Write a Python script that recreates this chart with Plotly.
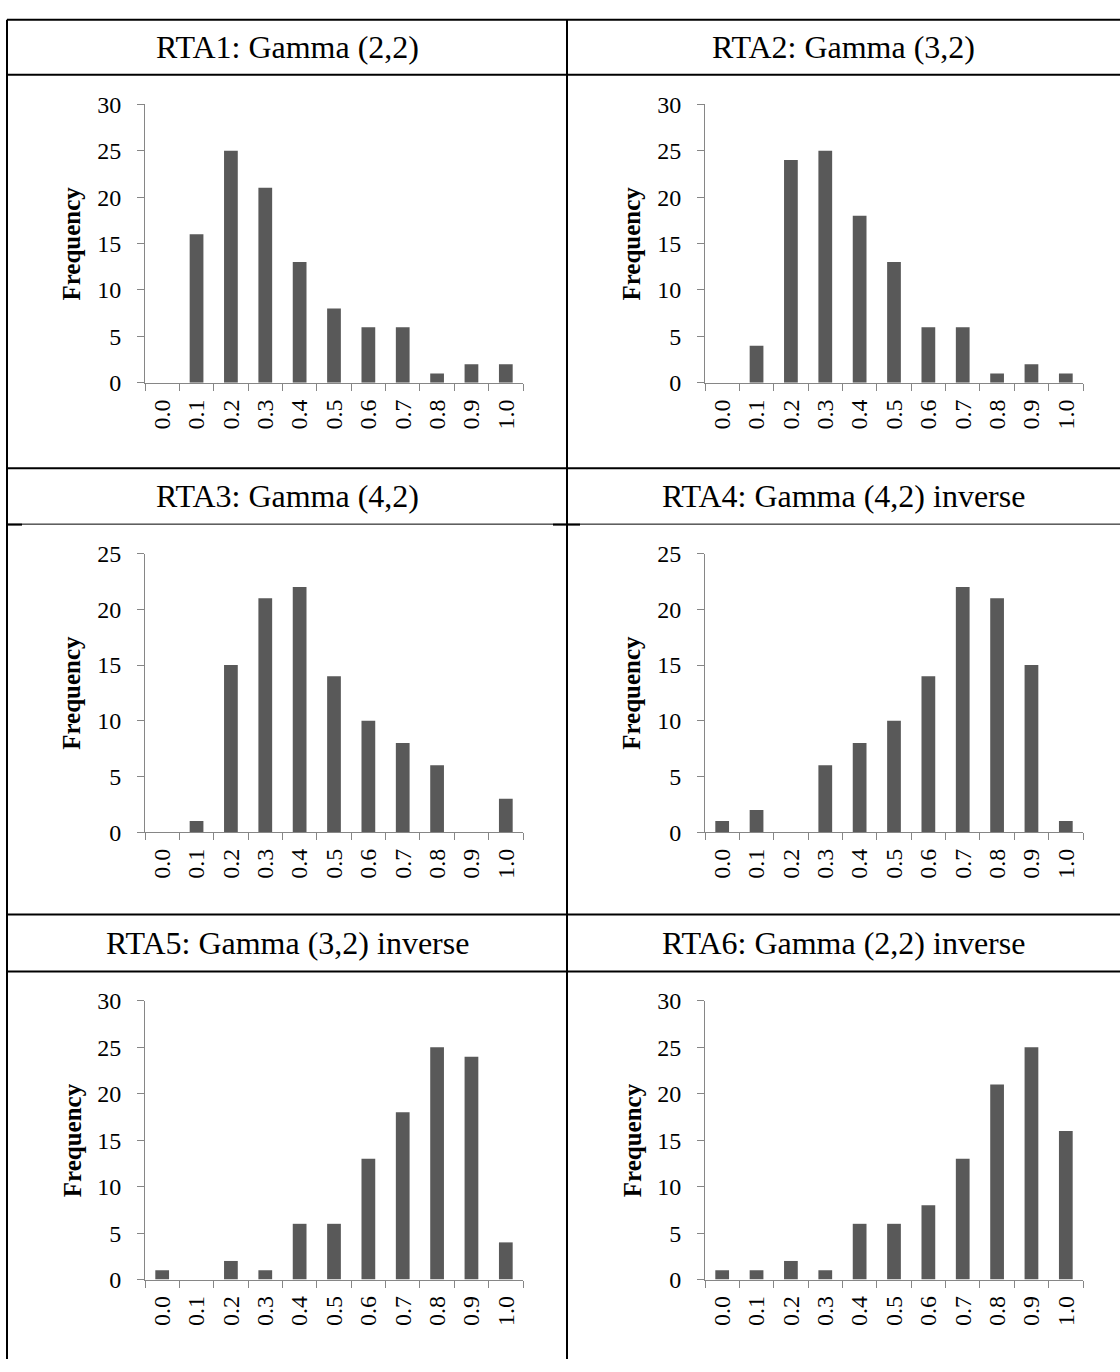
import plotly.graph_objects as go

W, H = 1120, 1372

categories = ["0.0", "0.1", "0.2", "0.3", "0.4", "0.5", "0.6", "0.7", "0.8", "0.9", "1.0"]

rta1 = [0, 16, 25, 21, 13, 8, 6, 6, 1, 2, 2]
rta2 = [0, 4, 24, 25, 18, 13, 6, 6, 1, 2, 1]
rta3 = [0, 1, 15, 21, 22, 14, 10, 8, 6, 0, 3]
rta4 = [1, 2, 0, 6, 8, 10, 14, 22, 21, 15, 1]
rta5 = [1, 0, 2, 1, 6, 6, 13, 18, 25, 24, 4]
rta6 = [1, 1, 2, 1, 6, 6, 8, 13, 21, 25, 16]

titles = ["RTA1: Gamma (2,2)", "RTA2: Gamma (3,2)",
          "RTA3: Gamma (4,2)", "RTA4: Gamma (4,2) inverse",
          "RTA5: Gamma (3,2) inverse", "RTA6: Gamma (2,2) inverse"]
series = [rta1, rta2, rta3, rta4, rta5, rta6]
ymax = [30, 30, 25, 25, 30, 30]

def X(px):
    return px / W

def Y(py):
    return 1 - py / H

# table geometry (pixels)
left_x, mid_x, right_x = 7, 567, 1120
row_lines = [(7, 63, 464), (464, 521, 919), (919, 977, 1372)]  # title top, title bottom/chart top, chart bottom

# plot area offsets relative to cell
plot_left_off = 138   # from cell left
plot_w = 378
plot_top_off = 30     # from chart cell top
plot_h = 284

FONT = "Liberation Serif"
axis_grey = "#868686"
bar_color = "#595959"

fig = go.Figure()
layout = dict(
    width=W, height=H,
    margin=dict(l=0, r=0, t=0, b=0),
    paper_bgcolor="white", plot_bgcolor="white",
    showlegend=False, bargap=0.6,
    font=dict(family=FONT, color="black"),
)

annotations = []
shapes = []

for i, (title, vals, ym) in enumerate(zip(titles, series, ymax)):
    r, c = divmod(i, 2)
    cell_left = left_x if c == 0 else mid_x
    cell_right = mid_x if c == 0 else right_x
    t_top, t_bot, c_bot = row_lines[r]
    px0 = cell_left + plot_left_off
    px1 = px0 + plot_w
    py0 = t_bot + plot_top_off
    py1 = py0 + plot_h
    idx = "" if i == 0 else str(i + 1)
    xa = "xaxis" + idx
    ya = "yaxis" + idx
    fig.add_trace(go.Bar(x=categories, y=vals, marker=dict(color=bar_color, line=dict(width=0)),
                         xaxis="x" + idx, yaxis="y" + idx, hoverinfo="x+y"))
    layout[xa] = dict(
        domain=[X(px0), X(px1)], anchor="y" + idx, type="category",
        range=[-0.5, 10.5], tickson="boundaries", ticks="outside", ticklen=7,
        tickcolor=axis_grey, tickwidth=1, showline=True, linecolor=axis_grey, linewidth=1,
        tickangle=-90, tickfont=dict(family=FONT, size=24, color="black"),
        ticklabelstandoff=6,
        showgrid=False, zeroline=False, fixedrange=True,
    )
    layout[ya] = dict(
        domain=[Y(py1), Y(py0)], anchor="x" + idx, range=[0, ym], dtick=5,
        ticks="outside", ticklen=7, tickcolor=axis_grey, tickwidth=1,
        showline=True, linecolor=axis_grey, linewidth=1,
        tickfont=dict(family=FONT, size=24, color="black"), ticklabelstandoff=11,
        showgrid=False, zeroline=False, fixedrange=True,
    )
    # y axis title
    annotations.append(dict(
        text="<b>Frequency</b>", textangle=-90, xref="paper", yref="paper",
        x=X(px0 - 73), y=Y((py0 + py1) / 2), xanchor="center", yanchor="middle",
        showarrow=False, font=dict(family=FONT, size=25, color="black"),
    ))
    # cell title
    annotations.append(dict(
        text=title, xref="paper", yref="paper",
        x=X((cell_left + cell_right) / 2), y=Y((t_top + t_bot) / 2),
        xanchor="center", yanchor="middle", showarrow=False,
        font=dict(family=FONT, size=32, color="black"),
    ))

def hline(py, x0, x1, w=2):
    shapes.append(dict(type="line", xref="paper", yref="paper",
                       x0=X(x0), x1=X(x1), y0=Y(py), y1=Y(py),
                       line=dict(color="black", width=w)))

def vline(px, y0, y1, w=2):
    shapes.append(dict(type="line", xref="paper", yref="paper",
                       x0=X(px), x1=X(px), y0=Y(y0), y1=Y(y1),
                       line=dict(color="black", width=w)))

# table borders
hline(7, left_x, right_x)
hline(63, left_x, right_x)
hline(464, left_x, right_x)
hline(521, left_x, right_x, w=1)
hline(521.5, left_x, left_x + 15, w=2)
hline(521.5, 553, 580, w=2)
hline(919, left_x, right_x)
hline(977, left_x, right_x)
vline(left_x, 7, 1372)
vline(mid_x, 7, 1372)

layout["annotations"] = annotations
layout["shapes"] = shapes
fig.update_layout(**layout)
fig.write_html("out.html")
